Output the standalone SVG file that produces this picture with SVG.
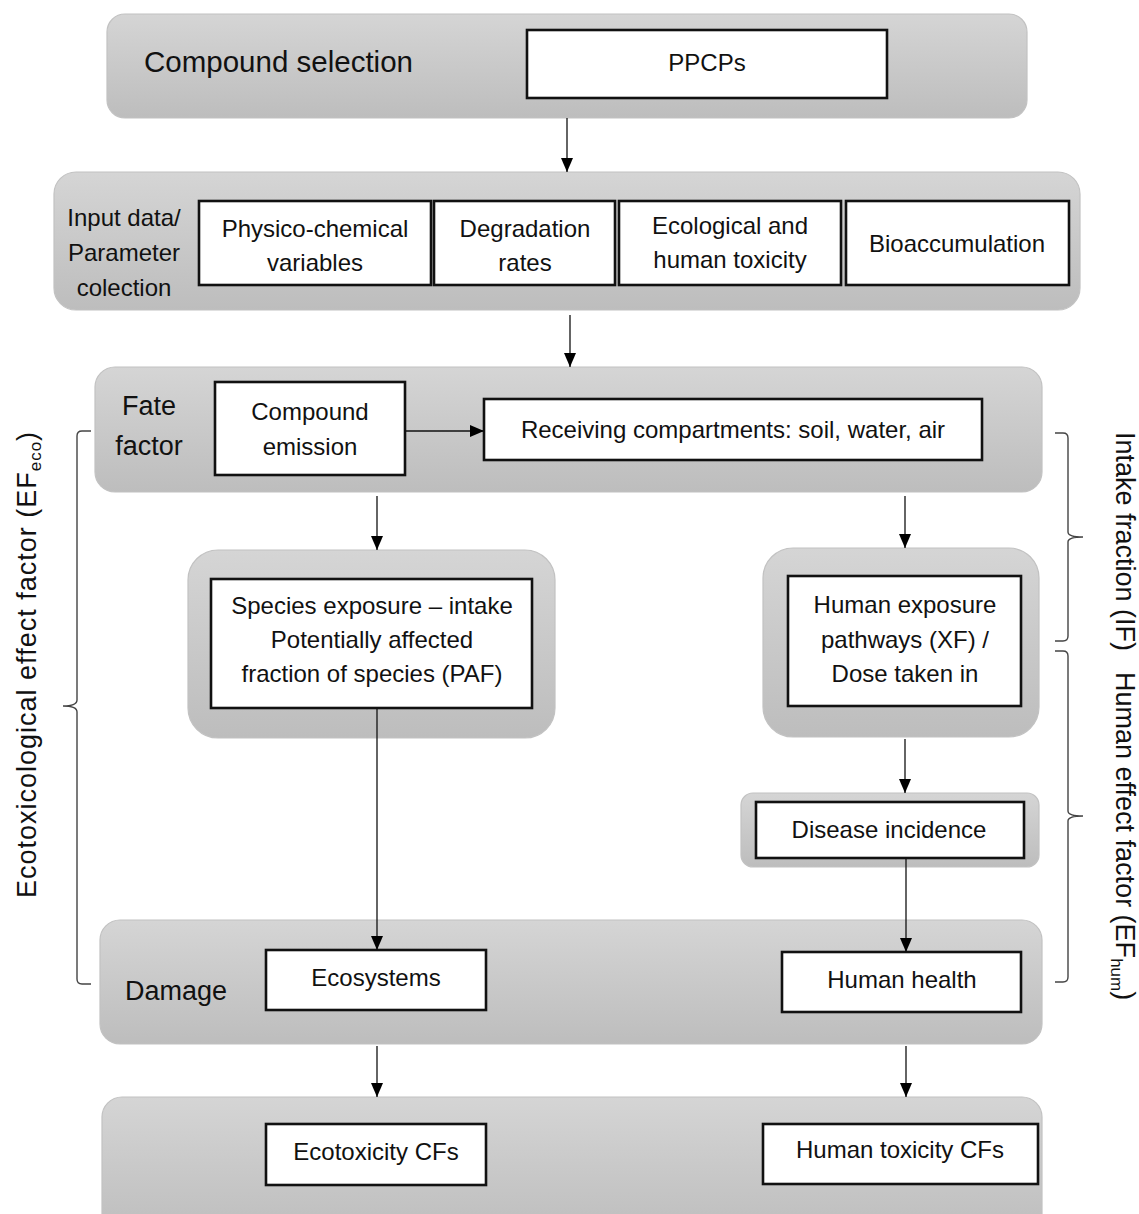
<svg xmlns="http://www.w3.org/2000/svg" width="1139" height="1214" viewBox="0 0 1139 1214">
<defs>
<linearGradient id="pg" x1="0" y1="0" x2="0" y2="1">
<stop offset="0" stop-color="#d5d5d5"/>
<stop offset="1" stop-color="#bdbdbd"/>
</linearGradient>
<marker id="ah" markerUnits="userSpaceOnUse" markerWidth="14" markerHeight="14" viewBox="0 0 14 14" refX="14" refY="7" orient="auto">
<path d="M0,1 L14,7 L0,13 Z" fill="#000"/>
</marker>
</defs>
<style>
.panel{fill:url(#pg);stroke:#c2c2c2;stroke-width:1.2}
.box{fill:#fff;stroke:#111;stroke-width:2.6}
.t{font-family:"Liberation Sans",Arial,sans-serif;font-size:24px;fill:#111;text-anchor:middle}
.lbl{font-family:"Liberation Sans",Arial,sans-serif;font-size:27px;fill:#111}
.big{font-size:29.5px}
.side{font-family:"Liberation Sans",Arial,sans-serif;font-size:27px;fill:#111}
.con{stroke:#111;stroke-width:1.3;fill:none;marker-end:url(#ah)}
.brace{stroke:#444;stroke-width:1.4;fill:none}
</style>
<rect width="1139" height="1214" fill="#fff"/>

<g id="compound-selection">
<rect class="panel" x="107" y="14" width="920" height="104" rx="18"/>
<text class="lbl big" x="144" y="72">Compound selection</text>
<rect class="box" x="527" y="30" width="360" height="68"/>
<text class="t" x="707" y="71">PPCPs</text>
</g>

<g id="input-data">
<rect class="panel" x="54" y="172" width="1026" height="138" rx="22"/>
<text class="t" x="124" y="226">Input data/</text>
<text class="t" x="124" y="261">Parameter</text>
<text class="t" x="124" y="296">colection</text>
<rect class="box" x="199" y="201" width="232" height="84"/>
<text class="t" x="315" y="237">Physico-chemical</text>
<text class="t" x="315" y="271">variables</text>
<rect class="box" x="434" y="201" width="181" height="84"/>
<text class="t" x="525" y="237">Degradation</text>
<text class="t" x="525" y="271">rates</text>
<rect class="box" x="619" y="201" width="222" height="84"/>
<text class="t" x="730" y="234">Ecological and</text>
<text class="t" x="730" y="268">human toxicity</text>
<rect class="box" x="846" y="201" width="223" height="84"/>
<text class="t" x="957" y="252">Bioaccumulation</text>
</g>

<g id="fate-factor">
<rect class="panel" x="95" y="367" width="947" height="125" rx="20"/>
<text class="lbl" x="149" y="415" text-anchor="middle">Fate</text>
<text class="lbl" x="149" y="455" text-anchor="middle">factor</text>
<rect class="box" x="215" y="382" width="190" height="93"/>
<text class="t" x="310" y="420">Compound</text>
<text class="t" x="310" y="455">emission</text>
<rect class="box" x="484" y="399" width="498" height="61"/>
<text class="t" x="733" y="438">Receiving compartments: soil, water, air</text>
</g>

<g id="species-exposure">
<rect class="panel" x="188" y="550" width="367" height="188" rx="30"/>
<rect class="box" x="211" y="579" width="321" height="129"/>
<text class="t" x="372" y="614">Species exposure – intake</text>
<text class="t" x="372" y="648">Potentially affected</text>
<text class="t" x="372" y="682">fraction of species (PAF)</text>
</g>

<g id="human-exposure">
<rect class="panel" x="763" y="548" width="276" height="189" rx="30"/>
<rect class="box" x="788" y="576" width="233" height="130"/>
<text class="t" x="905" y="613">Human exposure</text>
<text class="t" x="905" y="648">pathways (XF) /</text>
<text class="t" x="905" y="682">Dose taken in</text>
</g>

<g id="disease-incidence">
<rect class="panel" x="741" y="793" width="298" height="74" rx="12"/>
<rect class="box" x="756" y="802" width="268" height="56"/>
<text class="t" x="889" y="838">Disease incidence</text>
</g>

<g id="damage">
<rect class="panel" x="100" y="920" width="942" height="124" rx="20"/>
<text class="lbl" x="125" y="1000">Damage</text>
<rect class="box" x="266" y="950" width="220" height="60"/>
<text class="t" x="376" y="986">Ecosystems</text>
<rect class="box" x="782" y="952" width="239" height="60"/>
<text class="t" x="902" y="988">Human health</text>
</g>

<g id="cfs">
<rect class="panel" x="102" y="1097" width="940" height="140" rx="20"/>
<rect class="box" x="266" y="1124" width="220" height="61"/>
<text class="t" x="376" y="1160">Ecotoxicity CFs</text>
<rect class="box" x="763" y="1124" width="275" height="60"/>
<text class="t" x="900" y="1158">Human toxicity CFs</text>
</g>

<g id="connectors">
<line class="con" x1="567" y1="118" x2="567" y2="172"/>
<line class="con" x1="570" y1="315" x2="570" y2="367"/>
<line class="con" x1="405" y1="431" x2="484" y2="431"/>
<line class="con" x1="377" y1="496" x2="377" y2="550"/>
<line class="con" x1="905" y1="496" x2="905" y2="548"/>
<line class="con" x1="377" y1="708" x2="377" y2="950"/>
<line class="con" x1="905" y1="739" x2="905" y2="793"/>
<line class="con" x1="906" y1="858" x2="906" y2="952"/>
<line class="con" x1="377" y1="1046" x2="377" y2="1097"/>
<line class="con" x1="906" y1="1046" x2="906" y2="1097"/>
</g>

<g id="ecotox-brace">
<path class="brace" d="M91,431 L82,431 Q77,431 77,436 L77,700 Q77,706 63,706 Q77,706 77,712 L77,979 Q77,984 82,984 L91,984"/>
<text class="side" letter-spacing="1" transform="translate(36,898) rotate(-90)">Ecotoxicological effect factor (EF<tspan font-size="17" dy="5">eco</tspan><tspan dy="-5">)</tspan></text>
</g>

<g id="intake-brace">
<path class="brace" d="M1055,433 L1063,433 Q1068,433 1068,438 L1068,532 Q1068,537 1083,537 Q1068,537 1068,542 L1068,636 Q1068,641 1063,641 L1055,641"/>
</g>

<g id="human-effect-brace">
<path class="brace" d="M1055,651 L1063,651 Q1068,651 1068,656 L1068,811 Q1068,816 1083,816 Q1068,816 1068,821 L1068,977 Q1068,982 1063,982 L1055,982"/>
</g>

<g id="right-labels">
<text class="side" transform="translate(1116,432) rotate(90)">Intake fraction (IF)</text>
<text class="side" transform="translate(1116,672) rotate(90)">Human effect factor (EF<tspan font-size="17" dy="5">hum</tspan><tspan dy="-5">)</tspan></text>
</g>
</svg>
